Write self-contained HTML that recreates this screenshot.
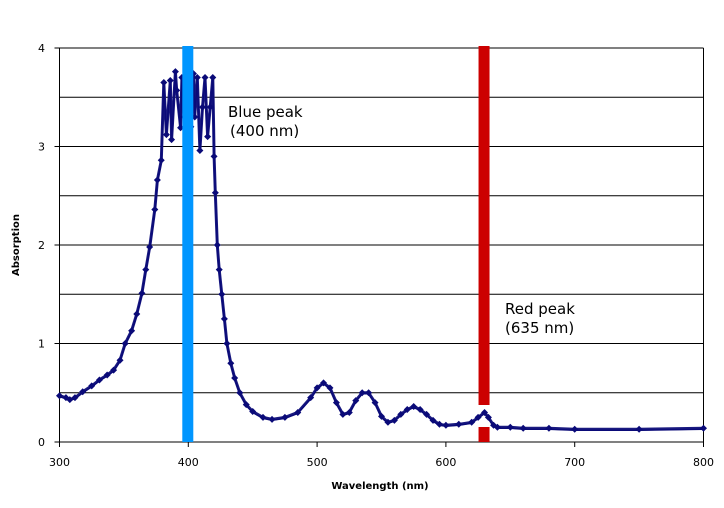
<!DOCTYPE html>
<html><head><meta charset="utf-8"><style>
html,body{margin:0;padding:0;background:#fff;}
svg{display:block;font-family:"DejaVu Sans","Liberation Sans",sans-serif;}
</style></head><body>
<svg id="chart" width="724" height="508" xmlns="http://www.w3.org/2000/svg">
<g id="grid"></g>
<g id="axes"></g>
<g id="series"></g>
<g id="bars"></g>
<text x="228" y="117" font-size="15" fill="#000">Blue peak</text>
<text x="230" y="136" font-size="15" fill="#000">(400 nm)</text>
<text x="505" y="314" font-size="15" fill="#000">Red peak</text>
<text x="505" y="333" font-size="15" fill="#000">(635 nm)</text>
<text x="380" y="489" font-size="10" font-weight="bold" text-anchor="middle">Wavelength (nm)</text>
<text x="19" y="245" font-size="10" font-weight="bold" text-anchor="middle" transform="rotate(-90 19 245)">Absorption</text>
</svg>
<script>
const wavelengths=[300,305,308,312,318,325,331,337,342,347,351,356,360,364,367,370,374,376,379,381,383,386,387,390,391,394,395,397,400,402,404,405,407,409,411,413,415,417,419,420,421,422.5,424,426,428,430,433,436,440,445,450,458,465,475,485,495,500,505,510,515,520,525,530,535,540,545,550,555,560,565,570,575,580,585,590,595,600,610,620,625,630,633,637,640,650,660,680,700,750,800];
const absorbance=[0.47,0.45,0.43,0.45,0.51,0.57,0.63,0.68,0.73,0.83,1.0,1.13,1.3,1.51,1.75,1.98,2.36,2.66,2.86,3.65,3.12,3.67,3.07,3.76,3.57,3.19,3.7,3.3,3.5,3.2,3.74,3.3,3.7,2.96,3.4,3.7,3.1,3.4,3.7,2.9,2.53,2.0,1.75,1.5,1.25,1.0,0.8,0.65,0.5,0.38,0.31,0.25,0.23,0.25,0.3,0.45,0.55,0.6,0.55,0.4,0.28,0.3,0.42,0.5,0.5,0.4,0.26,0.2,0.22,0.28,0.33,0.36,0.33,0.28,0.22,0.18,0.17,0.18,0.2,0.25,0.3,0.25,0.17,0.15,0.15,0.14,0.14,0.13,0.13,0.14];
const xTicks=[300,400,500,600,700,800];
const yTicks=[0,1,2,3,4];
const yGrid=[0.5,1,1.5,2,2.5,3,3.5,4];
const peaks=[400,630];
const NS="http://www.w3.org/2000/svg";
const X0=59.5,X1=703.5,Y0=442,Y1=48;
function xs(v){return X0+(v-300)/500*(X1-X0);}
function ys(v){return Y0-v/4*(Y0-Y1);}
function mk(tag,attrs,parent){const e=document.createElementNS(NS,tag);for(const k in attrs)e.setAttribute(k,attrs[k]);parent.appendChild(e);return e;}
const grid=document.getElementById('grid'),axes=document.getElementById('axes'),series=document.getElementById('series'),bars=document.getElementById('bars');
yGrid.forEach(v=>{const l=mk('line',{x1:X0,x2:X1,y1:ys(v),y2:ys(v),stroke:'#000','stroke-width':1},grid);

});
const rb=mk('line',{x1:X1,x2:X1,y1:Y1,y2:Y0,stroke:'#000','stroke-width':1},grid);


const ya=mk('line',{x1:X0,x2:X0,y1:Y1,y2:Y0+5,stroke:'#000','stroke-width':1},axes);


const xa=mk('line',{x1:X0-5,x2:X1,y1:Y0,y2:Y0,stroke:'#000','stroke-width':1},axes);


yTicks.forEach(v=>{const t=mk('line',{x1:X0-5,x2:X0,y1:ys(v),y2:ys(v),stroke:'#000'},axes);


const tx=mk('text',{x:45,y:ys(v)+4,'font-size':11,'text-anchor':'end'},axes);tx.textContent=v;

});
xTicks.forEach(v=>{const t=mk('line',{x1:xs(v),x2:xs(v),y1:Y0,y2:Y0+5,stroke:'#000'},axes);


const tx=mk('text',{x:xs(v),y:Y0+24,'font-size':11,'text-anchor':'middle'},axes);tx.textContent=v;

});
const pts=wavelengths.map((w,i)=>xs(w).toFixed(1)+','+ys(absorbance[i]).toFixed(1)).join(' ');
const pl=mk('polyline',{points:pts,fill:'none',stroke:'#1a1a80','stroke-width':3,'stroke-linejoin':'round'},series);


const pl2=mk('polyline',{points:pts,fill:'none',stroke:'#0a0a78','stroke-width':1.5,'stroke-linejoin':'round',transform:'translate(0,1)'},series);


wavelengths.forEach((w,i)=>{const x=xs(w),y=ys(absorbance[i]);
const d=mk('polygon',{points:`${x},${y-3.5} ${x+3.5},${y} ${x},${y+3.5} ${x-3.5},${y}`,fill:'#0a0a78'},series);

});
const b=mk('rect',{x:xs(peaks[0])-6,y:46,width:11,height:Y0-46,fill:'#0096ff'},bars);


const r1=mk('rect',{x:xs(peaks[1])-6,y:46,width:11,height:359,fill:'#cc0000'},bars);


const r2=mk('rect',{x:xs(peaks[1])-6,y:427,width:11,height:Y0-427,fill:'#cc0000'},bars);


</script>
</body></html>
